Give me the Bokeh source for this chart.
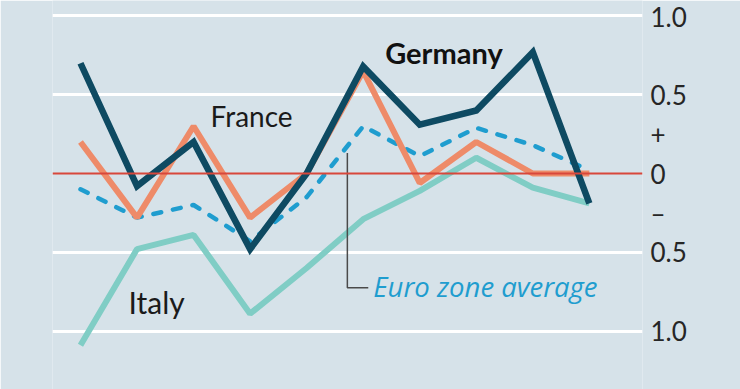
from bokeh.plotting import figure
from bokeh.models import FixedTicker, Span
from bokeh.core.properties import value
from bokeh.embed import file_html
from bokeh.resources import INLINE

# ---- data ----
periods = list(range(10))
germany = [0.70, -0.08, 0.20, -0.48, 0.0, 0.68, 0.31, 0.40, 0.77, -0.19]
france = [0.20, -0.28, 0.30, -0.28, 0.0, 0.65, -0.06, 0.20, 0.0, 0.0]
euro_area = [-0.10, -0.28, -0.20, -0.43, -0.15, 0.30, 0.11, 0.29, 0.18, 0.02]
italy = [-1.09, -0.48, -0.39, -0.89, -0.60, -0.29, -0.11, 0.10, -0.09, -0.19]

tick_values = [1.0, 0.5, 0.25, 0.0, -0.25, -0.5, -1.0]
tick_labels = ["1.0", "0.5", "+", "0", "\u2013", "0.5", "1.0"]
grid_values = [1.0, 0.5, -0.5, -1.0]

# ---- styles ----
BG = "#d6e2e9"
C_GER = "#0e4a62"
C_FRA = "#ee8b69"
C_EUR = "#1f9dcf"
C_ITA = "#80cdc5"
C_ZERO = "#d8473b"
FONT = "Lato"

p = figure(width=740, height=389, x_range=(-0.495, 9.94), y_range=(-1.3714, 1.0984),
           output_backend="svg", toolbar_location=None,
           x_axis_location=None, y_axis_location="right",
           min_border_left=52, min_border_right=98, min_border_top=0, min_border_bottom=0)
p.background_fill_color = BG
p.border_fill_color = BG
p.outline_line_color = None

p.xgrid.visible = False
p.ygrid.ticker = FixedTicker(ticks=grid_values)
p.ygrid.grid_line_color = "white"
p.ygrid.grid_line_width = 3

ax = p.yaxis[0]
ax.ticker = FixedTicker(ticks=tick_values)
ax.major_label_overrides = dict(zip(tick_values, tick_labels))
ax.axis_line_color = None
ax.major_tick_line_color = None
ax.minor_tick_line_color = None
ax.major_tick_out = 0
ax.major_label_standoff = 8
ax.major_label_text_font = FONT
ax.major_label_text_font_size = "26px"
ax.major_label_text_color = "#262626"

p.add_layout(Span(location=0, dimension="width", line_color=C_ZERO, line_width=2))

p.line(periods, italy, line_color=C_ITA, line_width=6)
p.line(periods, euro_area, line_color=C_EUR, line_width=4.5, line_dash="8 12", line_cap="round")
p.line(periods, france, line_color=C_FRA, line_width=6)
p.line(periods, germany, line_color=C_GER, line_width=6.5, line_join="miter")

# callout for euro zone average
p.line([4.72, 4.72, 5.09], [0.13, -0.725, -0.725], line_color="#4a4a4a", line_width=1.5)

p.text(x=[2.30], y=[0.362], text=["France"], text_font=value(FONT), text_font_size="28px",
       text_color="#1a1a1a", text_baseline="alphabetic", text_align="left")
p.text(x=[0.85], y=[-0.813], text=["Italy"], text_font=value(FONT), text_font_size="30px",
       text_color="#1a1a1a", text_baseline="alphabetic", text_align="left")
p.text(x=[5.39], y=[0.768], text=["Germany"], text_font=value(FONT), text_font_size="29px",
       text_font_style="bold", text_color="#111111", text_baseline="alphabetic", text_align="left")
p.text(x=[5.18], y=[-0.717], text=["Euro zone average"], text_font=value("Open Sans"),
       text_font_size="27.5px", text_font_style="italic", text_color=C_EUR,
       text_baseline="alphabetic", text_align="left")

open("out.html", "w").write(file_html(p, INLINE))
